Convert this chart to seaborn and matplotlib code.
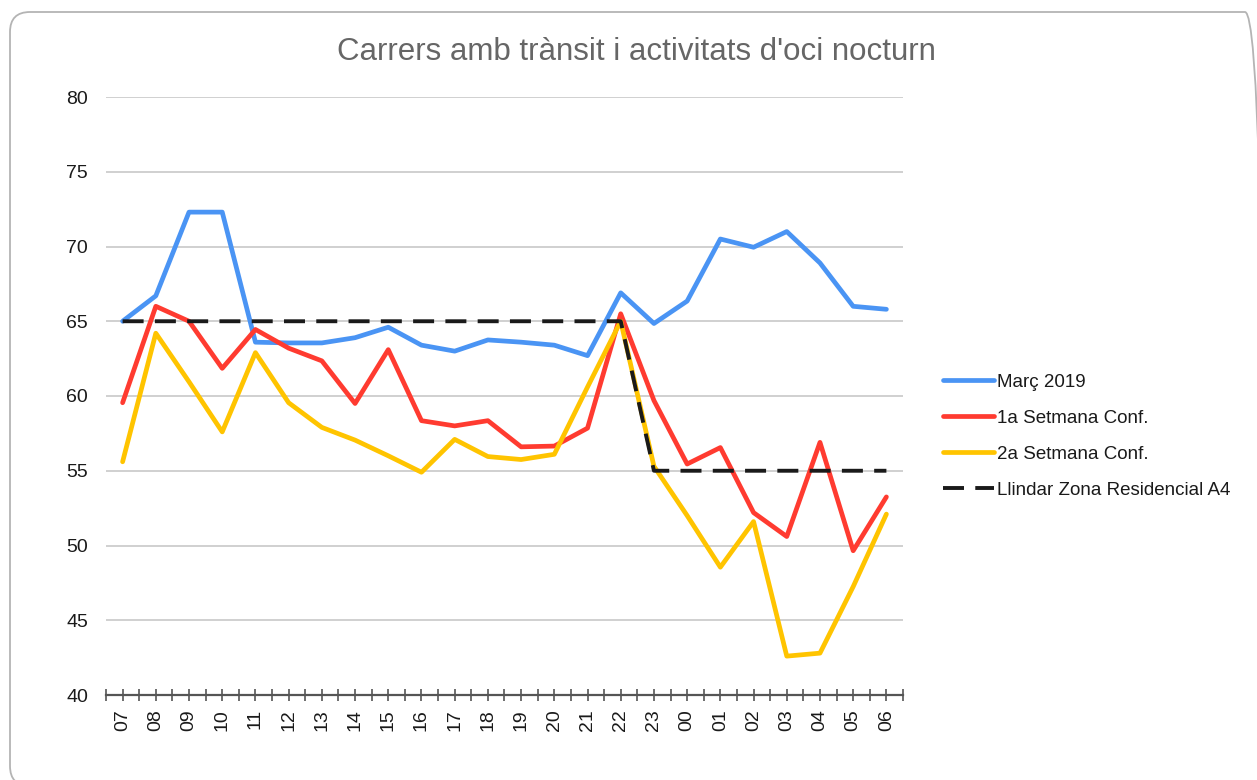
import numpy as np
import pandas as pd
import matplotlib
matplotlib.use("Agg")
import matplotlib.pyplot as plt
from matplotlib.patches import FancyBboxPatch
from matplotlib.lines import Line2D
import seaborn as sns

hours = ["07", "08", "09", "10", "11", "12", "13", "14", "15", "16", "17", "18",
         "19", "20", "21", "22", "23", "00", "01", "02", "03", "04", "05", "06"]
marc_2019 = [65.0, 66.7, 72.3, 72.3, 63.6, 63.55, 63.55, 63.9, 64.6, 63.4, 63.0, 63.75,
             63.6, 63.4, 62.7, 66.9, 64.85, 66.35, 70.5, 69.95, 71.0, 68.9, 66.0, 65.8]
setmana1 = [59.55, 66.0, 65.0, 61.85, 64.45, 63.2, 62.35, 59.5, 63.1, 58.35, 58.0, 58.35,
            56.6, 56.65, 57.85, 65.5, 59.7, 55.45, 56.55, 52.2, 50.6, 56.9, 49.65, 53.25]
setmana2 = [55.6, 64.2, 60.95, 57.6, 62.9, 59.55, 57.9, 57.05, 56.0, 54.9, 57.1, 55.95,
            55.75, 56.1, 60.6, 65.0, 55.3, 52.0, 48.55, 51.6, 42.6, 42.8, 47.25, 52.1]
llindar = [65, 65, 65, 65, 65, 65, 65, 65, 65, 65, 65, 65,
           65, 65, 65, 65, 55, 55, 55, 55, 55, 55, 55, 55]
series_names = ["Març 2019", "1a Setmana Conf.", "2a Setmana Conf.", "Llindar Zona Residencial A4"]
y_ticks = [40, 45, 50, 55, 60, 65, 70, 75, 80]

sns.set_theme(style="white")
plt.rcParams["font.family"] = ["Liberation Sans", "DejaVu Sans"]

x = np.arange(len(hours))
df = pd.DataFrame({
    "x": np.tile(x, 4),
    "value": marc_2019 + setmana1 + setmana2 + llindar,
    "serie": np.repeat(series_names, len(hours)),
})

colors = {series_names[0]: "#4a94f4", series_names[1]: "#ff3b30",
          series_names[2]: "#ffc400", series_names[3]: "#1a1a1a"}
LW = 3.4
DLW = 2.8
DASH = [5.4, 2.9]

fig = plt.figure(figsize=(12.57, 7.80), dpi=100)
fig.patch.set_facecolor("white")
border = FancyBboxPatch((0.10, -0.06), 12.55, 7.74,
                        boxstyle="round,pad=0,rounding_size=0.2",
                        transform=fig.dpi_scale_trans, facecolor="none",
                        edgecolor="#b4b4b4", linewidth=1.3, zorder=-1)
fig.patches.append(border)

ax = fig.add_axes([106 / 1257, 1 - 695 / 780, 797 / 1257, 598 / 780])
ax.set_facecolor("none")

for name in series_names[:3]:
    sub = df[df["serie"] == name]
    sns.lineplot(data=sub, x="x", y="value", ax=ax, color=colors[name],
                 linewidth=LW, legend=False, zorder=3)
sub = df[df["serie"] == series_names[3]]
sns.lineplot(data=sub, x="x", y="value", ax=ax, color=colors[series_names[3]],
             linewidth=DLW, legend=False, zorder=4)
ax.lines[-1].set_dashes(DASH)

ax.set_xlim(-0.5, len(hours) - 0.5)
ax.set_ylim(40, 80)
ax.set_yticks(y_ticks)
ax.set_yticklabels([str(v) for v in y_ticks], fontsize=14, color="#1a1a1a")
ax.set_xticks(x)
ax.set_xticklabels(hours, rotation=90, fontsize=14, color="#1a1a1a")
ax.set_xticks(np.arange(-0.5, len(hours), 1.0), minor=True)
ax.tick_params(axis="x", which="both", direction="inout", length=8, width=1.2,
               color="#555555", bottom=True, pad=6)
ax.tick_params(axis="y", length=0, pad=13)
ax.set_xlabel("")
ax.set_ylabel("")
ax.yaxis.grid(True, color="#c8c8c8", linewidth=1.2)
ax.xaxis.grid(False)
for s in ["top", "right", "left"]:
    ax.spines[s].set_visible(False)
ax.spines["bottom"].set_color("#555555")
ax.spines["bottom"].set_linewidth(1.6)
ax.spines["bottom"].set_zorder(5)

fig.text(636 / 1257, 1 - 52 / 780, "Carrers amb trànsit i activitats d'oci nocturn",
         ha="center", va="center", fontsize=22.5, color="#666666")

handles = [Line2D([], [], color=colors[n], linewidth=LW) for n in series_names[:3]]
handles.append(Line2D([], [], color=colors[series_names[3]], linewidth=DLW, dashes=DASH))
leg = fig.legend(handles, series_names, loc="upper left",
                 bbox_to_anchor=(926 / 1257, 1 - 357 / 780), frameon=False,
                 fontsize=13.5, handlelength=2.75, handletextpad=0.15, labelspacing=1.0)
for t in leg.get_texts():
    t.set_color("#1a1a1a")

fig.savefig("out.png", dpi=100, facecolor="white")
